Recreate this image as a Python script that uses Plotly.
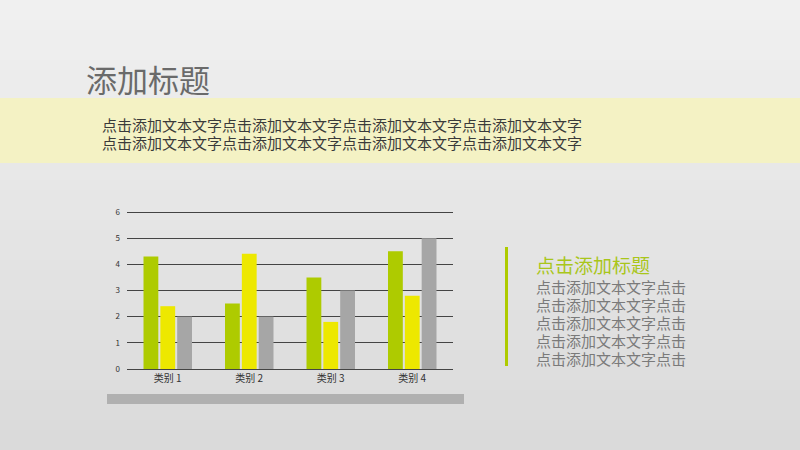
import plotly.graph_objects as go

categories = ["类别 1", "类别 2", "类别 3", "类别 4"]
series1 = [4.3, 2.5, 3.5, 4.5]
series2 = [2.4, 4.4, 1.8, 2.8]
series3 = [2, 2, 3, 5]
y_ticks = [0, 1, 2, 3, 4, 5, 6]

title = "添加标题"
body_line = "点击添加文本文字点击添加文本文字点击添加文本文字点击添加文本文字"
side_title = "点击添加标题"
side_line = "点击添加文本文字点击"

W, H = 800, 450
font = "Noto Sans CJK SC"

fig = go.Figure()
colors = ["#aecb00", "#ede800", "#a6a6a6"]
for vals, c, name in zip([series1, series2, series3], colors, ["系列 1", "系列 2", "系列 3"]):
    fig.add_trace(go.Bar(x=categories, y=vals, marker=dict(color=c, line=dict(width=0)),
                         name=name, showlegend=False, hoverinfo="x+y"))

shapes = []
# vertical gradient background
n = 45
top = (240, 240, 240)
bot = (218, 218, 218)
for i in range(n):
    t = i / (n - 1)
    col = tuple(round(top[k] + (bot[k] - top[k]) * t) for k in range(3))
    shapes.append(dict(type="rect", xref="paper", yref="paper",
                       x0=0, x1=1, y0=1 - (i + 1) / n - 0.001, y1=1 - i / n,
                       fillcolor="rgb(%d,%d,%d)" % col, line=dict(width=0), layer="below"))
# yellow band
shapes.append(dict(type="rect", xref="paper", yref="paper", x0=0, x1=1,
                   y0=1 - 163 / H, y1=1 - 98 / H, fillcolor="#f4f2c4",
                   line=dict(width=0), layer="below"))
# bottom gray bar under chart
shapes.append(dict(type="rect", xref="paper", yref="paper", x0=107 / W, x1=464 / W,
                   y0=1 - 404 / H, y1=1 - 394 / H, fillcolor="#b0b0b0",
                   line=dict(width=0), layer="below"))
# green vertical line
shapes.append(dict(type="rect", xref="paper", yref="paper", x0=505 / W, x1=508 / W,
                   y0=1 - 366 / H, y1=1 - 247 / H, fillcolor="#aecb00",
                   line=dict(width=0), layer="below"))
# top gridline (plotly clips gridlines at the axis edge)
shapes.append(dict(type="line", xref="x domain", yref="y domain", x0=0, x1=1,
                   y0=1 - 0.5 / 157, y1=1 - 0.5 / 157, line=dict(color="#444444", width=1)))

annotations = []
annotations.append(dict(text=title, x=84 / W, y=1 - 78 / H, xref="paper", yref="paper",
                        xanchor="left", yanchor="middle", showarrow=False,
                        font=dict(family=font, size=31, color="#6a6a6a")))
for i, yy in enumerate([124, 142]):
    annotations.append(dict(text=body_line, x=100 / W, y=1 - yy / H, xref="paper", yref="paper",
                            xanchor="left", yanchor="middle", showarrow=False,
                            font=dict(family=font, size=15, color="#3a3a3a")))
annotations.append(dict(text=side_title, x=534 / W, y=1 - 264 / H, xref="paper", yref="paper",
                        xanchor="left", yanchor="middle", showarrow=False,
                        font=dict(family=font, size=19, color="#a9c61a")))
for i in range(5):
    yy = 286 + 18 * i
    annotations.append(dict(text=side_line, x=534 / W, y=1 - yy / H, xref="paper", yref="paper",
                            xanchor="left", yanchor="middle", showarrow=False,
                            font=dict(family=font, size=15, color="#7a7a7a")))

fig.update_layout(
    width=W, height=H, autosize=False,
    margin=dict(l=0, r=0, t=0, b=0, pad=0, autoexpand=False),
    paper_bgcolor="#e6e6e6", plot_bgcolor="rgba(0,0,0,0)",
    barmode="group", bargap=0.38, bargroupgap=0.12,
    shapes=shapes, annotations=annotations,
    font=dict(family=font, color="#333333"),
    xaxis=dict(domain=[127 / W, 453 / W], range=[-0.5, 3.5], showgrid=False,
               showline=True, linecolor="#444444", linewidth=1, ticks="", automargin=False,
               tickfont=dict(size=10, color="#333333", family=font), fixedrange=True),
    yaxis=dict(domain=[1 - 369 / H, 1 - 212 / H], range=[0, 6], tickvals=y_ticks,
               showgrid=True, gridcolor="#444444", gridwidth=1, zeroline=False, automargin=False,
               showline=False, tickfont=dict(size=8, color="#333333", family=font),
               ticklabelstandoff=6, fixedrange=True),
)

post = (
    "document.documentElement.style.margin='0';"
    "document.documentElement.style.overflow='hidden';"
    "document.body.style.margin='0';document.body.style.padding='0';"
    "document.body.style.overflow='hidden';"
)

fig.write_html("out.html", config={"displayModeBar": False, "responsive": False},
               default_width="800px", default_height="450px", post_script=post)
